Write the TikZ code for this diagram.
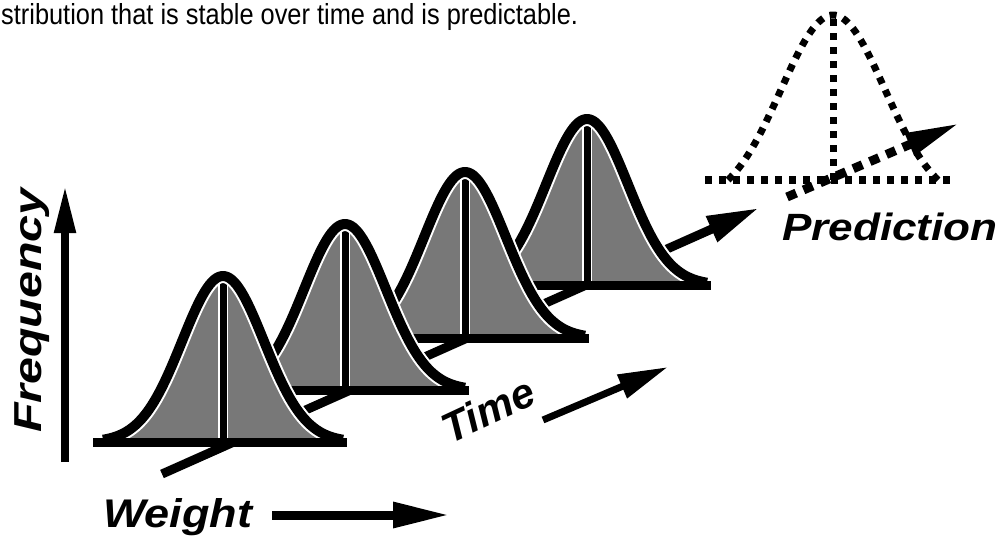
\documentclass[tikz,border=0pt]{standalone}
\usepackage{fontspec}
\setmainfont{Liberation Sans}
\usetikzlibrary{arrows.meta}
\definecolor{curvegray}{gray}{0.47}
\tikzset{
  lbl/.style={inner sep=0pt},
  bellfill/.style={fill=curvegray},
  belloutline/.style={line width=10pt, line join=round},
  bellhalo/.style={white, line width=14pt, line join=round},
  baseln/.style={line width=9pt},
  dotln/.style={line width=7pt, dash pattern=on 7pt off 7pt},
}
\begin{document}
\begin{tikzpicture}[x=1pt,y=-1pt]
\useasboundingbox (0,0) rectangle (1000,540);

% top text
\node[lbl, anchor=base west, font=\fontsize{29}{32}\selectfont] (toptext) at (1,25) {\scalebox{0.875}[1]{stribution that is stable over time and is predictable.}};

% time axis (behind curves)
\coordinate (ta0) at (162,474);
\coordinate (ta1) at (759,208);
\draw[line width=9pt, -{Triangle[length=52pt,width=26pt]}] (ta0) -- (ta1);

% bell curves, back to front
\foreach \cx/\by in {587/285, 465/338, 345/390, 223/442} {
  \fill[bellfill] plot[domain=-120:120,samples=100] ({\cx+\x},{\by-166*exp(-(\x*\x)/3362)}) -- cycle;
  \draw[white, line width=10pt] (\cx,\by) -- (\cx,\by-166);
  \draw[line width=7pt] (\cx,\by) -- (\cx,\by-166);
  \draw[bellhalo] plot[domain=-120:120,samples=100] ({\cx+\x},{\by-166*exp(-(\x*\x)/3362)});
  \draw[belloutline] plot[domain=-120:120,samples=100] ({\cx+\x},{\by-166*exp(-(\x*\x)/3362)});
  \draw[baseln] (\cx-130,\by) -- (\cx+124,\by);
}

% prediction (dotted)
\draw[dotln] (705,180) -- (955,180);
\draw[dotln] (833,180) -- (833,15);
\draw[dotln] plot[domain=-105:105,samples=80] ({833+\x},{180-165*(exp(-(\x*\x)/5408)-0.1302)/0.8698});
\coordinate (pa0) at (787,197);
\coordinate (pa1) at (960,123);
\draw[line width=9pt, dash pattern=on 10pt off 8pt, -{Triangle[length=55pt,width=22pt]}] (pa0) -- (pa1);

% frequency axis
\coordinate (fa0) at (65,462);
\coordinate (fa1) at (65,185);
\draw[line width=8pt, -{Triangle[length=48pt,width=20pt]}] (fa0) -- (fa1);

% weight arrow
\coordinate (wa0) at (272,515);
\coordinate (wa1) at (450,515);
\draw[line width=9pt, -{Triangle[length=57pt,width=24pt]}] (wa0) -- (wa1);

% time label arrow
\coordinate (tl0) at (543,420);
\coordinate (tl1) at (668,367);
\draw[line width=7pt, -{Triangle[length=50pt,width=24pt]}] (tl0) -- (tl1);

% labels
\node[lbl, rotate=90, anchor=base west, font=\bfseries\itshape\fontsize{39}{40}\selectfont] (freq) at (41,433) {\scalebox{1.24}[1]{Frequency}};
\node[lbl, anchor=base west, font=\bfseries\itshape\fontsize{40}{42}\selectfont] (weight) at (103,527) {\scalebox{1.125}[1]{Weight}};
\node[lbl, rotate=25, font=\bfseries\itshape\fontsize{42}{44}\selectfont] (time) at (488,410) {Time};
\node[lbl, anchor=base west, font=\bfseries\itshape\fontsize{38}{40}\selectfont] (pred) at (782,240) {\scalebox{1.16}[1]{Prediction}};
\end{tikzpicture}
\end{document}
